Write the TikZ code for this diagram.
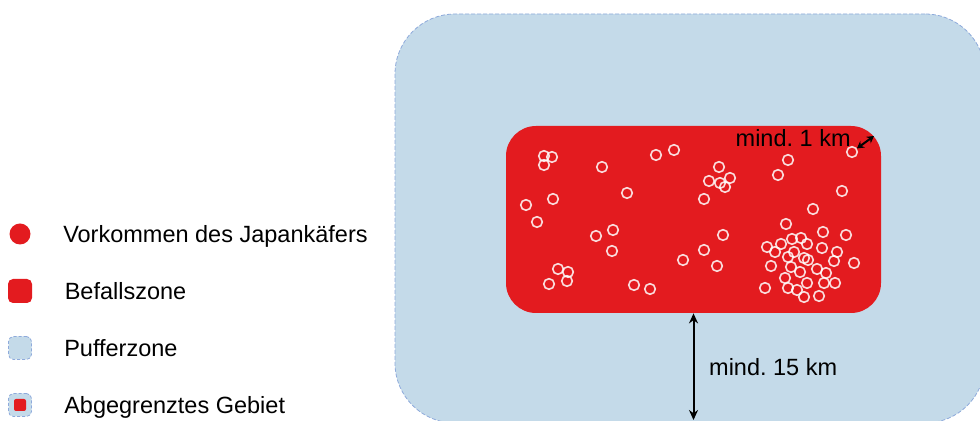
\documentclass[tikz,border=0pt]{standalone}
\usepackage{fontspec}
\setmainfont{Liberation Sans}
\usepackage{tikz}
\definecolor{befallcolor}{RGB}{227,27,31}
\definecolor{puffercolor}{RGB}{196,218,233}
\definecolor{randcolor}{RGB}{142,170,219}
\usetikzlibrary{arrows,arrows.meta,shapes,positioning}
\tikzset{
	puffer/.style={
		rectangle,
		fill=puffercolor,
		draw=randcolor,
		line width=0.4pt,
		dash pattern=on 2pt off 1pt,
		rounded corners=30pt,
		minimum width=295pt,
		minimum height=204.5pt
	},
	befall/.style={
		rectangle,
		fill=befallcolor,
		rounded corners=15pt,
		minimum width=187.5pt,
		minimum height=93.5pt
	},
	kaefer/.style={
		circle,
		draw=white,
		draw opacity=0.85,
		line width=0.8pt,
		inner sep=0pt,
		minimum size=5.3pt
	},
	legpunkt/.style={
		circle,
		fill=befallcolor,
		inner sep=0pt,
		minimum size=10.5pt
	},
	legbefall/.style={
		rectangle,
		fill=befallcolor,
		rounded corners=2.5pt,
		inner sep=0pt,
		minimum size=12pt
	},
	legpuffer/.style={
		rectangle,
		fill=puffercolor,
		draw=randcolor,
		line width=0.4pt,
		dash pattern=on 1.5pt off 1pt,
		rounded corners=2.5pt,
		inner sep=0pt,
		minimum size=11.5pt
	},
	legklein/.style={
		rectangle,
		fill=befallcolor,
		rounded corners=1pt,
		inner sep=0pt,
		minimum size=6pt
	},
	legtext/.style={
		inner sep=0pt,
		text depth=0pt
	},
	arrow/.style={
		draw=black,
		line width=1pt,
		{Stealth[length=5pt,width=4.5pt]}-{Stealth[length=5pt,width=4.5pt]}
	},
	kleinarrow/.style={
		draw=black,
		line width=1pt,
		{Stealth[length=3.5pt,width=4pt]}-{Stealth[length=3.5pt,width=4pt]}
	},
}

\begin{document}
\frenchspacing
\begin{tikzpicture}[x=0.5pt, y=-0.5pt, node distance=28.5pt, font=\fontsize{11.75}{14}\selectfont]
		\clip (0,0) rectangle (980,421);
		\node (pufferzone) [puffer] at (690,218.5) {};
		\node (befallszone) [befall] at (693.5,219.5) {};
		\foreach \x/\y [count=\i] in {544/156, 552/157, 544/165, 602/167, 656/155, 674/150, 627/193,
			526/205, 553/199, 537/222, 596/236, 613/230, 612/251, 683/260, 558/269, 568/272,
			567/281, 549/284, 634/285, 650/289, 719/167, 709/181, 720/183, 730/178, 725/187,
			704/199, 788/160, 778/175, 842/191, 813/209, 786/224, 723/235, 704/250, 717/266,
			846/235, 823/232, 854/263, 771/266, 765/288, 767/247, 775/252, 781/244, 792/239,
			801/238, 807/244, 794/252, 788/257, 804/258, 808/260, 822/248, 837/252, 834/261,
			791/267, 800/272, 817/269, 826/273, 785/278, 807/283, 824/283, 835/283, 788/288,
			797/290, 804/297, 819/296}
			\node (k\i) [kaefer] at (\x,\y) {};
		\node (keck) [kaefer] at (852,152) {};
		\coordinate (eck) at (874,136);
		\coordinate (unten) at (693.5,420);
		\draw [kleinarrow] (keck) -- (eck);
		\node (einkm) [legtext, anchor=east] at (851,138) {mind. 1 km};
		\draw [arrow] (befallszone.south) -- (unten) node [midway, right=4pt] {mind. 15 km};
		\node (leg1) [legpunkt] at (20,234) {};
		\node (leg2) [legbefall, below of = leg1] {};
		\node (leg3) [legpuffer, below of = leg2] {};
		\node (leg4) [legpuffer, below of = leg3] {};
		\node (leg4i) [legklein] at (leg4) {};
		\node (txt1) [legtext, right = 16pt of leg1] {Vorkommen des Japankäfers};
		\node (txt2) [legtext, right = 16pt of leg2] {Befallszone};
		\node (txt3) [legtext, right = 16pt of leg3] {Pufferzone};
		\node (txt4) [legtext, right = 16pt of leg4] {Abgegrenztes Gebiet};
		\end{tikzpicture}
\end{document}
